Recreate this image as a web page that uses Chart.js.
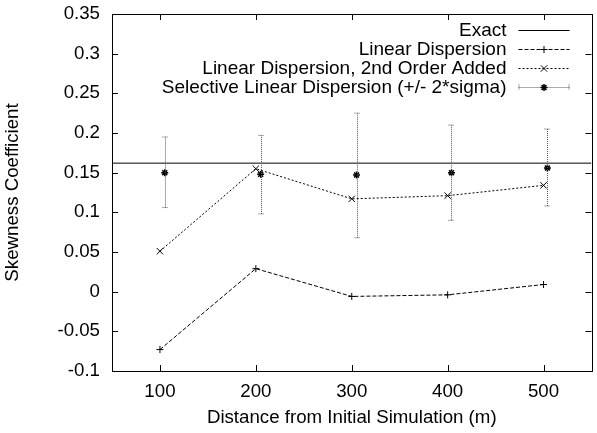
<!DOCTYPE html>
<html>
<head>
<meta charset="utf-8">
<script src="https://cdn.jsdelivr.net/npm/chart.js@4.4.0/dist/chart.umd.min.js"></script>
<style>
  html, body { margin: 0; padding: 0; background: #fff; }
</style>
</head>
<body>
<canvas id="skew" width="597" height="433"></canvas>
<script>
var labels = ["Exact", "Linear Dispersion", "Linear Dispersion, 2nd Order Added", "Selective Linear Dispersion (+/- 2*sigma)"];
var distances = [100, 200, 300, 400, 500];
var linearDisp = [-0.073, 0.029, -0.006, -0.004, 0.009];
var secondOrder = [0.051, 0.155, 0.117, 0.121, 0.134];
var selectiveX = [105, 205, 305, 404, 504];
var selectiveMean = [0.150, 0.148, 0.147, 0.150, 0.156];
var selectiveLow = [0.106, 0.098, 0.068, 0.090, 0.108];
var selectiveHigh = [0.195, 0.197, 0.225, 0.210, 0.205];
var exactValue = 0.162;
var xTicks = [100, 200, 300, 400, 500];
var yTicks = [-0.1, -0.05, 0, 0.05, 0.1, 0.15, 0.2, 0.25, 0.3, 0.35];
var xMin = 50, xMax = 550;

var font = { family: "'Liberation Sans', Arial, sans-serif", size: 18.7 };
var keyFontSize = 19;

function pts(xs, ys) {
  return xs.map(function (x, i) { return { x: x, y: ys[i] }; });
}

function drawMark(ctx, style, x, y, r) {
  ctx.beginPath();
  if (style == "cross" || style == "star") {
    ctx.moveTo(x - r, y); ctx.lineTo(x + r, y);
    ctx.moveTo(x, y - r); ctx.lineTo(x, y + r);
  }
  if (style == "crossRot" || style == "star") {
    var d = r * 0.7071;
    ctx.moveTo(x - d, y - d); ctx.lineTo(x + d, y + d);
    ctx.moveTo(x - d, y + d); ctx.lineTo(x + d, y - d);
  }
  ctx.stroke();
}

// box, inward ticks on all sides, error bars and gnuplot-like key
var gnuplotFrame = {
  id: "gnuplotFrame",
  afterDatasetsDraw: function (chart) {
    var ctx = chart.ctx;
    var a = chart.chartArea;
    var xs = chart.scales.x, ys = chart.scales.y;
    ctx.save();
    ctx.lineWidth = 1;

    // error bars
    ctx.strokeStyle = "#555";
    ctx.setLineDash([1, 1]);
    selectiveX.forEach(function (v, i) {
      var px = Math.round(xs.getPixelForValue(v)) + 0.5;
      var lo = ys.getPixelForValue(selectiveLow[i]);
      var hi = ys.getPixelForValue(selectiveHigh[i]);
      ctx.beginPath();
      ctx.moveTo(px, lo); ctx.lineTo(px, hi);
      ctx.moveTo(px - 3, lo); ctx.lineTo(px + 3, lo);
      ctx.moveTo(px - 3, hi); ctx.lineTo(px + 3, hi);
      ctx.stroke();
    });
    ctx.setLineDash([]);
    ctx.strokeStyle = "#000";

    // frame
    ctx.strokeRect(Math.round(a.left) + 0.5, Math.round(a.top) + 0.5,
      Math.round(a.right - a.left), Math.round(a.bottom - a.top));

    // ticks
    ctx.beginPath();
    xTicks.forEach(function (v) {
      var px = Math.round(xs.getPixelForValue(v)) + 0.5;
      ctx.moveTo(px, a.bottom); ctx.lineTo(px, a.bottom - 6);
      ctx.moveTo(px, a.top); ctx.lineTo(px, a.top + 6);
    });
    yTicks.forEach(function (v) {
      var py = Math.round(ys.getPixelForValue(v)) + 0.5;
      ctx.moveTo(a.left, py); ctx.lineTo(a.left + 6, py);
      ctx.moveTo(a.right, py); ctx.lineTo(a.right - 6, py);
    });
    ctx.stroke();

    // key
    ctx.font = keyFontSize + "px " + font.family;
    ctx.fillStyle = "#000";
    ctx.textAlign = "right";
    ctx.textBaseline = "middle";
    var tx = a.right - 85, l0 = a.right - 73, l1 = a.right - 22;
    chart.data.datasets.forEach(function (ds, i) {
      var y = Math.round(a.top + 16 + 19 * i) + 0.5;
      ctx.fillText(ds.label, tx, y);
      ctx.strokeStyle = ds.errorBars ? "#555" : "#000";
      ctx.setLineDash(ds.keyDash);
      ctx.beginPath();
      ctx.moveTo(l0, y); ctx.lineTo(l1, y);
      if (ds.errorBars) {
        ctx.moveTo(l0 + 0.5, y - 3); ctx.lineTo(l0 + 0.5, y + 3);
        ctx.moveTo(l1 - 0.5, y - 3); ctx.lineTo(l1 - 0.5, y + 3);
      }
      ctx.stroke();
      ctx.setLineDash([]);
      ctx.strokeStyle = "#000";
      if (ds.pointRadius > 0) {
        ctx.lineWidth = ds.pointBorderWidth || 1;
        drawMark(ctx, ds.pointStyle, (l0 + l1) / 2, y, ds.pointRadius);
        ctx.lineWidth = 1;
      }
    });
    ctx.restore();
  }
};

new Chart("skew", {
  type: "scatter",
  data: {
    datasets: [{
      label: labels[0],
      data: [{ x: xMin, y: exactValue }, { x: xMax, y: exactValue }],
      showLine: true,
      borderColor: "#000",
      borderWidth: 1,
      pointRadius: 0,
      keyDash: []
    }, {
      label: labels[1],
      data: pts(distances, linearDisp),
      showLine: true,
      borderColor: "#000",
      borderWidth: 1,
      borderDash: [4, 2],
      pointStyle: "cross",
      pointRadius: 3.5,
      pointBorderColor: "#000",
      pointBorderWidth: 1,
      keyDash: [4, 2]
    }, {
      label: labels[2],
      data: pts(distances, secondOrder),
      showLine: true,
      borderColor: "#000",
      borderWidth: 1,
      borderDash: [2, 2],
      pointStyle: "crossRot",
      pointRadius: 4.5,
      pointBorderColor: "#000",
      pointBorderWidth: 1,
      keyDash: [2, 2]
    }, {
      label: labels[3],
      data: pts(selectiveX, selectiveMean),
      showLine: false,
      borderColor: "#000",
      pointStyle: "star",
      pointRadius: 3.5,
      pointBorderColor: "#000",
      pointBorderWidth: 1.5,
      keyDash: [1, 1],
      errorBars: true
    }]
  },
  options: {
    responsive: false,
    animation: false,
    layout: { padding: { top: 14, right: 2, left: 0, bottom: 0 } },
    plugins: {
      legend: { display: false },
      tooltip: { enabled: false }
    },
    scales: {
      x: {
        type: "linear",
        min: xMin,
        max: xMax,
        afterBuildTicks: function (s) { s.ticks = xTicks.map(function (v) { return { value: v }; }); },
        afterFit: function (s) { s.height = 62; s.paddingLeft = 0; s.paddingRight = 0; },
        grid: { display: false, drawTicks: false },
        border: { display: false },
        ticks: { color: "#000", font: font, padding: 10, maxRotation: 0 },
        title: {
          display: true,
          text: "Distance from Initial Simulation (m)",
          color: "#000",
          font: font,
          padding: { top: 0, bottom: 3.5 }
        }
      },
      y: {
        min: -0.1,
        max: 0.35,
        afterBuildTicks: function (s) { s.ticks = yTicks.map(function (v) { return { value: v }; }); },
        afterFit: function (s) { s.width = 112; s.paddingTop = 0; s.paddingBottom = 0; },
        grid: { display: false, drawTicks: false },
        border: { display: false },
        ticks: {
          color: "#000",
          font: font,
          padding: 12,
          callback: function (v) { return String(parseFloat(v.toFixed(2))); }
        },
        title: {
          display: true,
          text: "Skewness Coefficient",
          color: "#000",
          font: font,
          padding: { top: 2, bottom: 0 }
        }
      }
    }
  },
  plugins: [gnuplotFrame]
});
</script>
</body>
</html>
